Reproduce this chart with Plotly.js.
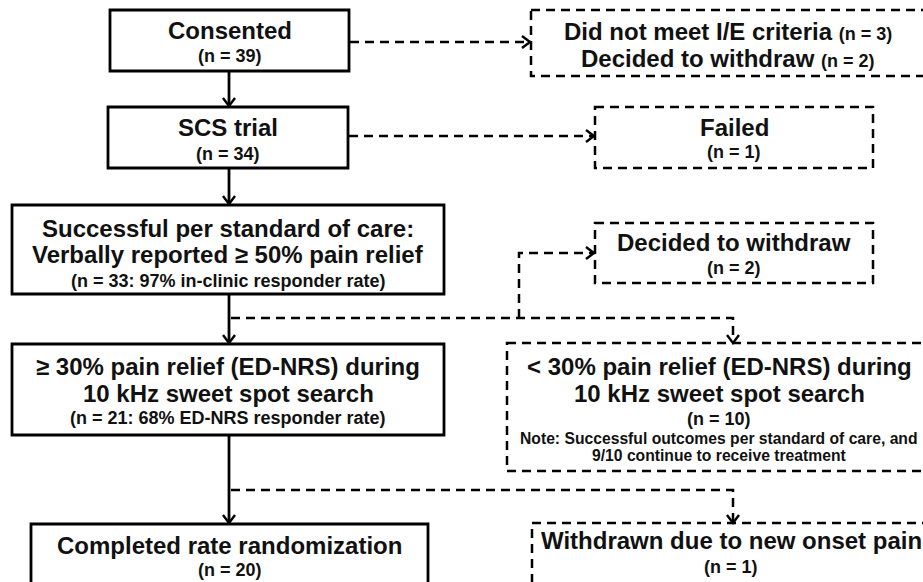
<!DOCTYPE html>
<html>
<head>
<meta charset="utf-8">
<script src="https://cdn.plot.ly/plotly-3.0.1.min.js"></script>
<style>html,body{margin:0;padding:0;background:#fff;}#chart{width:923px;height:582px;}</style>
</head>
<body>
<div id="chart"></div>
<script>
// ---- Data (text content of the flow chart) ----
const mainTitles = [
  ["Consented"],
  ["SCS trial"],
  ["Successful per standard of care:", "Verbally reported ≥ 50% pain relief"],
  ["≥ 30% pain relief (ED-NRS) during", "10 kHz sweet spot search"],
  ["Completed rate randomization"]
];
const mainCounts = [39, 34, 33, 21, 20];
const mainRates = [null, null, "97% in-clinic responder rate", "68% ED-NRS responder rate", null];

const exitTitles = [
  ["Did not meet I/E criteria", "Decided to withdraw"],
  ["Failed"],
  ["Decided to withdraw"],
  ["< 30% pain relief (ED-NRS) during", "10 kHz sweet spot search"],
  ["Withdrawn due to new onset pain"]
];
const exitCounts = [[3, 2], [1], [2], [10], [1]];
const exitNotes = [null, null, null,
  ["Note: Successful outcomes per standard of care, and", "9/10 continue to receive treatment"], null];

// ---- Geometry (pixel layout) ----
const mainBox = [
  {x0:110, x1:349, y0:10,  y1:71,  lines:[30], sub:56},
  {x0:108, x1:348, y0:107, y1:168, lines:[127.5], sub:154},
  {x0:12,  x1:444, y0:205, y1:294, lines:[228, 254], sub:281},
  {x0:12,  x1:444, y0:344, y1:435, lines:[366, 393], sub:418},
  {x0:31,  x1:428, y0:524, y1:600, lines:[545], sub:570}
];
const exitBox = [
  {x0:531, x1:935, y0:10,  y1:76,  lines:[31, 58], cx:728},
  {x0:595, x1:873, y0:107, y1:168, lines:[127], sub:152},
  {x0:595, x1:873, y0:223, y1:283, lines:[242], sub:268},
  {x0:507, x1:935, y0:343, y1:471, lines:[366, 393], sub:419, notes:[438, 455], cx:719},
  {x0:532, x1:935, y0:523, y1:600, lines:[540], sub:567, cx:731}
];
const spineX = 229;
const branchY = [318, 490];
const branchX = 733;
const sideBranchX = 519;

const TITLE_SIZE = 24, SUB_SIZE = 18, NOTE_SIZE = 15.7;
const FONT = "Liberation Sans, Arial, sans-serif";
const INK = "#111";
const SOLID = {color:"#000", width:2.8};
const DASHED = {color:"#000", width:2.5, dash:"9px,6px"};

const shapes = [];
const annotations = [];

function rect(b, line) {
  shapes.push({type:"rect", xref:"x", yref:"y", x0:b.x0, x1:b.x1, y0:b.y0, y1:b.y1, line:line, fillcolor:"rgba(0,0,0,0)"});
}
function seg(pts, line) {
  let p = "M" + pts.map(q => q[0] + "," + q[1]).join(" L");
  shapes.push({type:"path", xref:"x", yref:"y", path:p, line:line});
}
function head(x, y, dir) {
  const L = 8, W = 6;
  let pts;
  if (dir === "right") pts = [[x - L, y - W], [x, y], [x - L, y + W]];
  else pts = [[x - W, y - L], [x, y], [x + W, y - L]];
  seg(pts, {color:"#000", width:2.4});
}
function text(x, y, t, size) {
  annotations.push({xref:"x", yref:"y", x:x, y:y, text:t, showarrow:false,
    xanchor:"center", yanchor:"middle",
    font:{family:FONT, size:size, color:INK, weight:"bold"}});
}

// main boxes
mainBox.forEach((b, i) => {
  rect(b, SOLID);
  const cx = (b.x0 + b.x1) / 2;
  mainTitles[i].forEach((t, j) => text(cx, b.lines[j], t, TITLE_SIZE));
  const sub = mainRates[i] ? "(n = " + mainCounts[i] + ": " + mainRates[i] + ")" : "(n = " + mainCounts[i] + ")";
  text(cx, b.sub, sub, SUB_SIZE);
});

// exit boxes
exitBox.forEach((b, i) => {
  rect(b, DASHED);
  const cx = b.cx !== undefined ? b.cx : (b.x0 + b.x1) / 2;
  if (i === 0) {
    exitTitles[i].forEach((t, j) => text(cx, b.lines[j],
      t + ' <span style="font-size:' + SUB_SIZE + 'px">(n = ' + exitCounts[i][j] + ')</span>', TITLE_SIZE));
  } else {
    exitTitles[i].forEach((t, j) => text(cx, b.lines[j], t, TITLE_SIZE));
    text(cx, b.sub, "(n = " + exitCounts[i][0] + ")", SUB_SIZE);
  }
  if (exitNotes[i]) exitNotes[i].forEach((t, j) => text(cx, b.notes[j], t, NOTE_SIZE));
});

// solid spine arrows
for (let i = 0; i < mainBox.length - 1; i++) {
  seg([[spineX, mainBox[i].y1], [spineX, mainBox[i + 1].y0]], SOLID);
  head(spineX, mainBox[i + 1].y0 - 1, "down");
}

// dashed exits from first two boxes
[0, 1].forEach(i => {
  const y = Math.round((mainBox[i].y0 + mainBox[i].y1) / 2) + (i === 0 ? 1 : -2);
  seg([[mainBox[i].x1 + 1, y], [exitBox[i].x0, y]], DASHED);
  head(exitBox[i].x0 - 1, y, "right");
});

// branch 1: to "decided to withdraw" and "< 30%" box
seg([[spineX + 2, branchY[0]], [branchX, branchY[0]], [branchX, exitBox[3].y0]], DASHED);
head(branchX, exitBox[3].y0, "down");
const sideY = Math.round((exitBox[2].y0 + exitBox[2].y1) / 2);
seg([[sideBranchX, branchY[0]], [sideBranchX, sideY], [exitBox[2].x0, sideY]], DASHED);
head(exitBox[2].x0 - 1, sideY, "right");

// branch 2: to "withdrawn" box
seg([[spineX + 2, branchY[1]], [branchX, branchY[1]], [branchX, exitBox[4].y0]], DASHED);
head(branchX, exitBox[4].y0, "down");

const layout = {
  width:923, height:582,
  margin:{l:0, r:0, t:0, b:0},
  paper_bgcolor:"#fff", plot_bgcolor:"#fff",
  showlegend:false,
  xaxis:{range:[0, 923], visible:false, fixedrange:true},
  yaxis:{range:[582, 0], visible:false, fixedrange:true},
  shapes:shapes, annotations:annotations
};
Plotly.newPlot("chart", [{x:[], y:[], type:"scatter", mode:"markers"}], layout, {displayModeBar:false, staticPlot:true});
</script>
</body>
</html>
